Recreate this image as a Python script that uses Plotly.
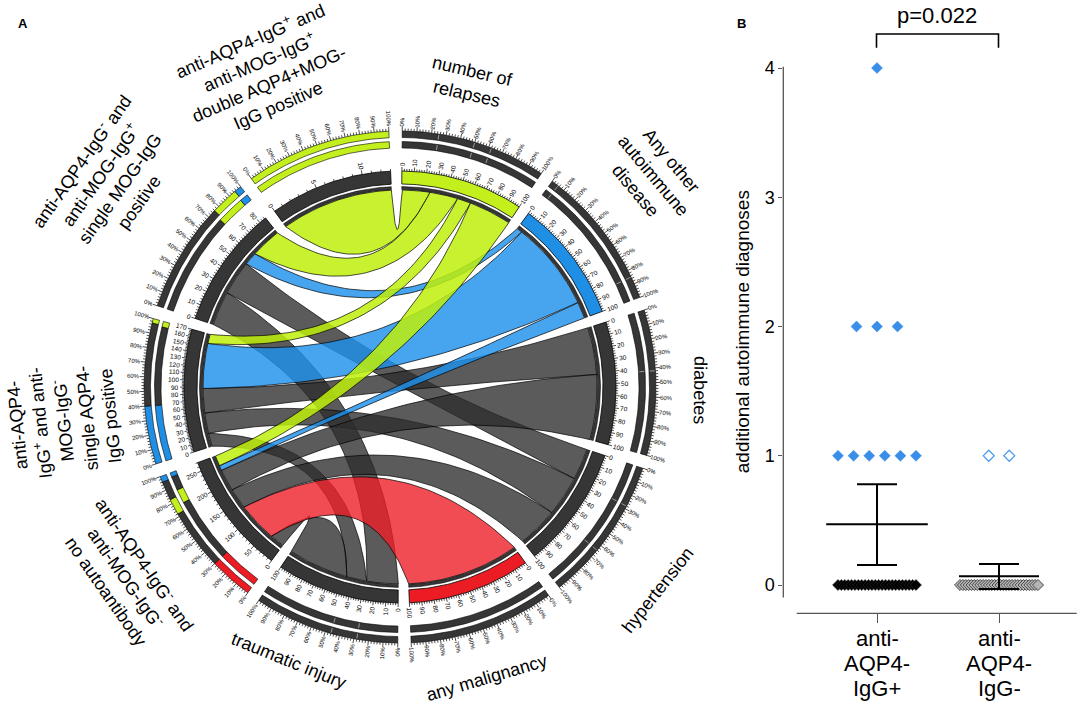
import numpy as np
import plotly.graph_objects as go

W, H = 1084, 704
FONT = "Arial, Liberation Sans, sans-serif"

# ======================= Panel A : chord diagram data =======================
sector_keys = ["relapses", "autoimmune", "diabetes", "hypertension", "malignancy",
               "traumatic", "noab", "aqp4", "mog", "double"]
sector_titles = [
    "number of<br>relapses",
    "Any other<br>autoimmune<br>disease",
    "diabetes",
    "hypertension",
    "any malignancy",
    "traumatic injury",
    "anti-AQP4-IgG<sup>-</sup> and<br>anti-MOG-IgG<sup>-</sup><br>no autoantibody",
    "anti-AQP4-<br>IgG<sup>+</sup> and anti-<br>MOG-IgG<sup>-</sup><br>single AQP4-<br>IgG positive",
    "anti-AQP4-IgG<sup>-</sup> and<br>anti-MOG-IgG<sup>+</sup><br>single MOG-IgG<br>positive",
    "anti-AQP4-IgG<sup>+</sup> and<br>anti-MOG-IgG<sup>+</sup><br>double AQP4+MOG-<br>IgG positive",
]
sector_max = [100, 100, 100, 100, 100, 100, 270, 170, 85, 13]
sector_major = [10, 10, 10, 10, 10, 10, 50, 10, 10, 5]
sector_minor = [2, 2, 2, 2, 2, 2, 10, 2, 2, 1]
sector_fill = ["lime", "blue", "dark", "dark", "red", "dark", "dark", "dark", "dark", "dark"]

# ribbons: group -> outcome, size at the group end and at the outcome end
flow_group = ["double", "mog", "mog", "mog", "mog",
              "aqp4", "aqp4", "aqp4", "aqp4", "aqp4",
              "noab", "noab", "noab", "noab", "noab", "noab"]
flow_outcome = ["relapses", "traumatic", "hypertension", "autoimmune", "relapses",
                "traumatic", "hypertension", "diabetes", "autoimmune", "relapses",
                "traumatic", "malignancy", "hypertension", "diabetes", "autoimmune", "relapses"]
flow_group_size = [13, 26, 26, 10, 23,
                   20, 31, 37, 68, 14,
                   35, 95, 50, 53, 12, 25]
flow_outcome_size = [25, 28, 28, 5, 25,
                     18, 36, 42, 80, 12,
                     54, 100, 36, 58, 15, 38]

# outer composition tracks of the antibody groups (fractions)
track_keys = ["double", "mog", "aqp4", "noab"]
track_a_breaks = [[0, 1], [0, 0.74, 0.94, 1], [0, 0.40, 0.96, 1], [0, 0.30, 0.77, 0.87, 0.97, 1]]
track_a_colors = [["lime"], ["dark", "lime", "blue"], ["blue", "dark", "lime"],
                  ["red", "dark", "lime", "dark", "blue"]]
track_b_breaks = [[0, 1], [0, 0.76, 0.95, 1], [0, 0.40, 0.97, 1], [0, 0.30, 0.72, 0.83, 0.96, 1]]
track_b_colors = [["lime"], ["dark", "lime", "blue"], ["blue", "dark", "lime"],
                  ["red", "dark", "lime", "dark", "blue"]]

# ======================= Panel B : dot plot data =======================
b_categories = ["anti-<br>AQP4-<br>IgG+", "anti-<br>AQP4-<br>IgG-"]
g1_levels = [0, 1, 2, 4]
g1_counts = [24, 6, 3, 1]
g2_levels = [0, 1]
g2_counts = [28, 2]
b_mean = [0.47, 0.067]
b_ci_low = [0.155, -0.03]
b_ci_high = [0.78, 0.162]
p_text = "p=0.022"

# ======================= styles / geometry =======================
COL = {"lime": "#c3f01c", "blue": "#1f8fe5", "red": "#ec1c24", "dark": "#363636"}
RIB = {"lime": "rgba(190,240,10,0.85)", "blue": "rgba(30,144,235,0.82)",
       "red": "rgba(238,30,40,0.80)", "dark": "rgba(45,45,45,0.78)"}
CX, CY = 400.0, 387.0
START, SPAN, GAP = 0.5, 33.0, 3.0
R_RIB = 197.0
R_RING = (197.5, 200.5)
R_BAND = (203.0, 216.0)
R_TA = (239.0, 245.5)
R_TB = (249.5, 256.0)

idx = {k: i for i, k in enumerate(sector_keys)}
sec_start = [START + i * (SPAN + GAP) for i in range(len(sector_keys))]


def pos(b, r):
    a = np.radians(b)
    return CX + r * np.sin(a), CY - r * np.cos(a)


def bearing(key, v):
    i = idx[key]
    return sec_start[i] + v / sector_max[i] * SPAN


def arc(b0, b1, r, n=40):
    bs = np.linspace(b0, b1, n)
    x, y = pos(bs, r)
    return list(x), list(y)


def bez(b0, b2, r):
    s = ((b2 - b0 + 180.0) % 360.0) - 180.0
    d = abs(s)
    mid = b0 + s / 2.0
    rc = r * 0.6 * np.cos(np.radians(d / 2.0)) ** 3
    p0 = np.array(pos(b0, r))
    p2 = np.array(pos(b2, r))
    c = np.array(pos(mid, rc))
    t = np.linspace(0, 1, 50)[:, None]
    pts = (1 - t) ** 2 * p0 + 2 * (1 - t) * t * c + t ** 2 * p2
    return list(pts[:, 0]), list(pts[:, 1])


traces = []
annotations = []


def poly(xs, ys, fill, lc="black", lw=0.8):
    traces.append(go.Scatter(x=xs, y=ys, fill="toself", fillcolor=fill, mode="lines",
                             line=dict(color=lc, width=lw), hoverinfo="skip",
                             showlegend=False, xaxis="x", yaxis="y"))


def annulus(b0, b1, r0, r1, fill, lc="black", lw=0.7):
    x1, y1 = arc(b0, b1, r1)
    x0, y0 = arc(b1, b0, r0)
    poly(x1 + x0 + [x1[0]], y1 + y0 + [y1[0]], fill, lc, lw)


def radial_label(b, r0, text, size):
    L = 0.56 * size * len(text)
    x, y = pos(b, r0 + L / 2.0)
    bb = b % 360
    ang = bb - 90 if bb < 180 else bb - 270
    annotations.append(dict(x=x, y=y, xref="x", yref="y", text=text, textangle=ang,
                            showarrow=False, xanchor="center", yanchor="middle",
                            font=dict(size=size, color="black", family=FONT)))


# ---- ribbons ----
g_cum = {k: 0.0 for k in sector_keys}
o_cum = {k: 0.0 for k in sector_keys}
ribbons = []
for g, o, gs, osz in zip(flow_group, flow_outcome, flow_group_size, flow_outcome_size):
    a1, a2 = bearing(g, g_cum[g]), bearing(g, g_cum[g] + gs)
    c1, c2 = bearing(o, o_cum[o]), bearing(o, o_cum[o] + osz)
    g_cum[g] += gs
    o_cum[o] += osz
    ribbons.append((sector_fill[idx[o]], a1, a2, c1, c2))

order = {"dark": 0, "red": 1, "blue": 2, "lime": 3}
for colr, a1, a2, c1, c2 in sorted(ribbons, key=lambda r: order[r[0]]):
    xa, ya = arc(a1, a2, R_RIB)
    xb1, yb1 = bez(a2, c1, R_RIB)
    xc, yc = arc(c1, c2, R_RIB)
    xb2, yb2 = bez(c2, a1, R_RIB)
    poly(xa + xb1 + xc + xb2, ya + yb1 + yc + yb2, RIB[colr], "black", 0.7)

# ---- sector bands, inner rings, outer tracks ----
tick_x, tick_y = [], []
sep_x, sep_y = [], []
for i, k in enumerate(sector_keys):
    b0 = sec_start[i]
    b1 = b0 + SPAN
    annulus(b0, b1, R_RING[0], R_RING[1], COL["dark"], "black", 0.5)
    annulus(b0, b1, R_BAND[0], R_BAND[1], COL[sector_fill[i]], "black", 0.8)
    if k in track_keys:
        j = track_keys.index(k)
        for (brk, cols, rr) in ((track_a_breaks[j], track_a_colors[j], R_TA),
                                (track_b_breaks[j], track_b_colors[j], R_TB)):
            for s in range(len(cols)):
                annulus(b0 + brk[s] * SPAN, b0 + brk[s + 1] * SPAN, rr[0], rr[1],
                        COL[cols[s]], "black", 0.6)
    else:
        annulus(b0, b1, R_TA[0], R_TA[1], COL["dark"], "black", 0.6)
        annulus(b0, b1, R_TB[0], R_TB[1], COL["dark"], "black", 0.6)
        # separators from the stacking of this outcome
        cum = 0.0
        for o, osz in zip(flow_outcome, flow_outcome_size):
            if o == k:
                cum += osz
                if cum < sector_max[i] - 0.5:
                    bs = b0 + cum / sector_max[i] * SPAN
                    for rr in (R_TA, R_TB):
                        x0, y0 = pos(bs, rr[0] + 0.8)
                        x1, y1 = pos(bs, rr[1] - 0.8)
                        sep_x += [x0, x1, None]
                        sep_y += [y0, y1, None]
    # inner band ticks
    mx = sector_max[i]
    v = 0.0
    while v <= mx + 1e-9:
        bb = bearing(k, v)
        major = abs((v / sector_major[i]) - round(v / sector_major[i])) < 1e-9
        x0, y0 = pos(bb, R_BAND[1])
        x1, y1 = pos(bb, R_BAND[1] + (4.0 if major else 2.2))
        tick_x += [x0, x1, None]
        tick_y += [y0, y1, None]
        if major:
            radial_label(bb, R_BAND[1] + 5.0, "%d" % v, 6.5)
        v += sector_minor[i]
    # percent ticks
    for p in range(0, 101, 2):
        bb = b0 + p / 100.0 * SPAN
        major = p % 10 == 0
        x0, y0 = pos(bb, R_TB[1])
        x1, y1 = pos(bb, R_TB[1] + (4.5 if major else 2.5))
        tick_x += [x0, x1, None]
        tick_y += [y0, y1, None]
        if major:
            radial_label(bb, R_TB[1] + 5.5, "%d%%" % p, 6.0)

traces.append(go.Scatter(x=tick_x, y=tick_y, mode="lines", line=dict(color="black", width=0.7),
                         hoverinfo="skip", showlegend=False, xaxis="x", yaxis="y"))
traces.append(go.Scatter(x=sep_x, y=sep_y, mode="lines", line=dict(color="#9a9a9a", width=1.0),
                         hoverinfo="skip", showlegend=False, xaxis="x", yaxis="y"))

# ---- sector titles ----
title_bearing = [13.0, 50.1, 90.6, 128.2, 163.5, 202.0, 235.2, 264.3, 305.3, 336.6]
title_radius = [313, 330, 300, 328, 303, 295, 333, 338, 356, 343]
for t, b, r in zip(sector_titles, title_bearing, title_radius):
    x, y = pos(b, r)
    if 95 < b < 260:
        ang = b - 180
    else:
        ang = b if b <= 180 else b - 360
    annotations.append(dict(x=x, y=y, xref="x", yref="y", text=t, textangle=ang,
                            showarrow=False, xanchor="center", yanchor="middle", align="center",
                            font=dict(size=18, color="black", family=FONT)))

# ======================= Panel B traces =======================
PX_X = 122.0   # pixels per category unit
PX_Y = 129.25  # pixels per y unit


def swarm_offsets(n):
    if n <= 1:
        return np.zeros(1)
    sp = min(20.5, 78.0 / (n - 1)) / PX_X
    return (np.arange(n) - (n - 1) / 2.0) * sp


groups_data = [(1, g1_levels, g1_counts), (2, g2_levels, g2_counts)]
for gx, levels, counts in groups_data:
    for lv, n in zip(levels, counts):
        xs = gx + swarm_offsets(n)
        ys = np.repeat(lv, n)
        if gx == 1 and lv == 0:
            mk = dict(symbol="diamond", size=8.5, color="black", line=dict(color="#333", width=0.5))
        elif gx == 1:
            mk = dict(symbol="diamond", size=8.5, color="#3a8ee8", line=dict(color="#3a8ee8", width=0.5))
        elif lv == 0:
            mk = dict(symbol="diamond", size=8.5, color="#b5b5b5", line=dict(color="#4a4a4a", width=1))
        else:
            mk = dict(symbol="diamond-open", size=8.5, color="#4a9cf0", line=dict(color="#4a9cf0", width=1.2))
        traces.append(go.Scatter(x=xs, y=ys, mode="markers", marker=mk, cliponaxis=False,
                                 hoverinfo="skip", showlegend=False, xaxis="x2", yaxis="y2"))

mean_half = [50.8 / PX_X, 40.0 / PX_X]
cap_half = 20.0 / PX_X
lx, ly = [], []
for gi, gx in enumerate([1, 2]):
    lx += [gx - mean_half[gi], gx + mean_half[gi], None]
    ly += [b_mean[gi], b_mean[gi], None]
    lx += [gx, gx, None]
    ly += [b_ci_low[gi], b_ci_high[gi], None]
    for yv in (b_ci_low[gi], b_ci_high[gi]):
        lx += [gx - cap_half, gx + cap_half, None]
        ly += [yv, yv, None]
traces.append(go.Scatter(x=lx, y=ly, mode="lines", line=dict(color="black", width=2),
                         hoverinfo="skip", showlegend=False, xaxis="x2", yaxis="y2"))

# axis geometry for panel B (pixels)
X_LEFT_PX = 783.3
G1_PX = 877.0
Y0_PX = 585.0
BOT_PX = 613.3
TOP_PX = 50.0
x2_range = [1 - (G1_PX - X_LEFT_PX) / PX_X, 1 + (W - G1_PX) / PX_X]
y2_range = [(Y0_PX - BOT_PX) / PX_Y, (Y0_PX - TOP_PX) / PX_Y]

shapes = [
    dict(type="line", xref="x2 domain", yref="y2", x0=0, x1=0, y0=-0.097, y1=4.01,
         line=dict(color="#555", width=1.3)),
    dict(type="line", xref="x2", yref="y2 domain", x0=0.342, x1=2.637, y0=0, y1=0,
         line=dict(color="#555", width=1.3)),
    # significance bracket (pixel -> paper)
    dict(type="path", xref="paper", yref="paper",
         path="M %f %f L %f %f L %f %f L %f %f" % (
             876.5 / W, 1 - 47.8 / H, 876.5 / W, 1 - 34 / H, 998.5 / W, 1 - 34 / H, 998.5 / W, 1 - 47.8 / H),
         line=dict(color="black", width=1.6)),
]

# category labels below the x axis, one annotation per text line
line_px = [638, 663, 688]
for gi, cat in enumerate(b_categories):
    for li, part in enumerate(cat.split("<br>")):
        annotations.append(dict(x=gi + 1, y=1 - line_px[li] / H, xref="x2", yref="paper",
                                text=part, showarrow=False, xanchor="center", yanchor="middle",
                                font=dict(size=22, color="black", family=FONT)))

annotations += [
    dict(x=937 / W, y=1 - 15 / H, xref="paper", yref="paper", text=p_text, showarrow=False,
         xanchor="center", yanchor="middle", font=dict(size=22, color="black", family=FONT)),
    dict(x=23 / W, y=1 - 23 / H, xref="paper", yref="paper", text="<b>A</b>", showarrow=False,
         xanchor="center", yanchor="middle", font=dict(size=13, color="black", family=FONT)),
    dict(x=741 / W, y=1 - 23 / H, xref="paper", yref="paper", text="<b>B</b>", showarrow=False,
         xanchor="center", yanchor="middle", font=dict(size=13, color="black", family=FONT)),
]

fig = go.Figure(data=traces)
fig.update_layout(
    width=W, height=H, margin=dict(l=0, r=0, t=0, b=0, autoexpand=False),
    paper_bgcolor="white", plot_bgcolor="white", showlegend=False,
    font=dict(family=FONT, color="black"),
    xaxis=dict(domain=[0, 740 / W], range=[0, 740], visible=False, fixedrange=True),
    yaxis=dict(domain=[0, 1], range=[H, 0], visible=False, fixedrange=True),
    xaxis2=dict(domain=[X_LEFT_PX / W, 1], range=x2_range, anchor="y2", automargin=False,
                tickvals=[1, 2], showticklabels=False, ticks="outside", ticklen=9,
                tickwidth=1.3, tickcolor="#555", showline=False, showgrid=False, zeroline=False),
    yaxis2=dict(domain=[(H - BOT_PX) / H, (H - TOP_PX) / H], range=y2_range, anchor="x2",
                automargin=False,
                tickvals=[0, 1, 2, 3, 4], ticks="outside", ticklen=4, tickwidth=1.3,
                tickcolor="#555", showline=False, showgrid=False, zeroline=False,
                tickfont=dict(size=18, color="black", family=FONT),
                title=dict(text="additional autoimmune diagnoses", standoff=10,
                           font=dict(size=19, color="black", family=FONT))),
    shapes=shapes,
    annotations=annotations,
)

fig.write_html("out.html", config={"displayModeBar": False},
               post_script="document.body.style.margin='0';")
